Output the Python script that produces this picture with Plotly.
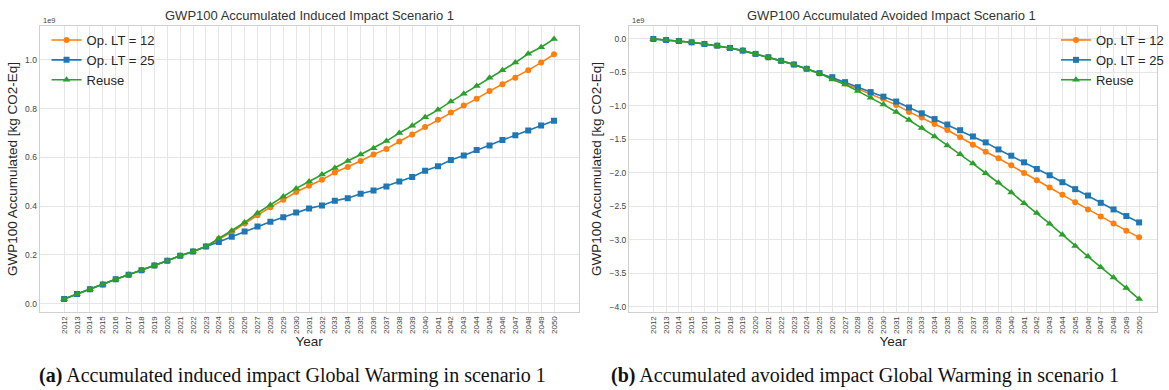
import plotly.graph_objects as go

years = list(range(2012, 2051))

# Values in units of 1e9 kg CO2-Eq
induced_op12 = [0.019, 0.040, 0.059, 0.079, 0.100, 0.119, 0.137, 0.157, 0.176, 0.197, 0.214, 0.235,
                0.266, 0.294, 0.329, 0.363, 0.396, 0.426, 0.458, 0.484, 0.508, 0.538, 0.561, 0.585,
                0.612, 0.635, 0.665, 0.694, 0.725, 0.755, 0.784, 0.813, 0.841, 0.872, 0.900, 0.927,
                0.958, 0.989, 1.023]
induced_op25 = [0.019, 0.040, 0.059, 0.079, 0.100, 0.119, 0.137, 0.157, 0.176, 0.197, 0.214, 0.235,
                0.253, 0.275, 0.296, 0.317, 0.336, 0.355, 0.374, 0.391, 0.403, 0.422, 0.433, 0.451,
                0.464, 0.481, 0.501, 0.520, 0.545, 0.564, 0.589, 0.608, 0.630, 0.649, 0.671, 0.691,
                0.710, 0.731, 0.750]
induced_reuse = [0.019, 0.040, 0.059, 0.079, 0.100, 0.119, 0.137, 0.157, 0.176, 0.197, 0.214, 0.235,
                 0.268, 0.299, 0.333, 0.372, 0.405, 0.440, 0.473, 0.501, 0.530, 0.557, 0.585, 0.612,
                 0.638, 0.667, 0.700, 0.730, 0.765, 0.795, 0.829, 0.861, 0.893, 0.927, 0.958, 0.989,
                 1.025, 1.052, 1.086]

avoided_op12 = [0.0, -0.015, -0.030, -0.050, -0.075, -0.100, -0.134, -0.174, -0.223, -0.273, -0.327,
                -0.382, -0.446, -0.511, -0.585, -0.665, -0.745, -0.818, -0.895, -0.985, -1.090,
                -1.175, -1.270, -1.360, -1.470, -1.580, -1.686, -1.782, -1.889, -2.003, -2.112,
                -2.221, -2.330, -2.439, -2.548, -2.652, -2.757, -2.865, -2.965]
avoided_op25 = [0.0, -0.015, -0.030, -0.050, -0.075, -0.100, -0.134, -0.174, -0.223, -0.273, -0.327,
                -0.382, -0.446, -0.511, -0.571, -0.645, -0.720, -0.794, -0.862, -0.935, -1.024,
                -1.111, -1.197, -1.279, -1.364, -1.457, -1.546, -1.651, -1.745, -1.844, -1.943,
                -2.037, -2.141, -2.245, -2.340, -2.449, -2.548, -2.647, -2.742]
avoided_reuse = [0.0, -0.015, -0.030, -0.050, -0.075, -0.100, -0.134, -0.174, -0.223, -0.273, -0.327,
                 -0.382, -0.446, -0.511, -0.605, -0.680, -0.779, -0.877, -0.981, -1.091, -1.210,
                 -1.331, -1.457, -1.591, -1.723, -1.862, -2.007, -2.150, -2.293, -2.454, -2.602,
                 -2.761, -2.925, -3.093, -3.252, -3.411, -3.564, -3.723, -3.887]

series_names = ["Op. LT = 12", "Op. LT = 25", "Reuse"]
colors = ["#ff7f0e", "#1f77b4", "#2ca02c"]
symbols = ["circle", "square", "triangle-up"]
msizes = [6, 6, 7]

left_ticks = [0.0, 0.2, 0.4, 0.6, 0.8, 1.0]
right_ticks = [-4.0, -3.5, -3.0, -2.5, -2.0, -1.5, -1.0, -0.5, 0.0]

titles = ["GWP100 Accumulated Induced Impact Scenario 1",
          "GWP100 Accumulated Avoided Impact Scenario 1"]
captions = ["<b>(a)</b> Accumulated induced impact Global Warming in scenario 1",
            "<b>(b)</b> Accumulated avoided impact Global Warming in scenario 1"]

FONT = "Liberation Sans, Arial, sans-serif"
W, H = 1169, 390

fig = go.Figure()

for panel, data in enumerate([[induced_op12, induced_op25, induced_reuse],
                              [avoided_op12, avoided_op25, avoided_reuse]]):
    xa = "x" if panel == 0 else "x2"
    ya = "y" if panel == 0 else "y2"
    lg = "legend" if panel == 0 else "legend2"
    for i in range(3):
        fig.add_trace(go.Scatter(
            x=years, y=data[i], name=series_names[i], mode="lines+markers",
            line=dict(color=colors[i], width=1.6),
            marker=dict(symbol=symbols[i], size=msizes[i], color=colors[i]),
            xaxis=xa, yaxis=ya, legend=lg))

def px_x(p):
    return p / W

def px_y(p):
    return (H - p) / H

grid = "#e6e6e6"
frame = "#d0d0d0"
tickfont = dict(family=FONT, size=8.5, color="#444")
axtitle = dict(family=FONT, size=13.5, color="#262626")

xcommon = dict(tickmode="array", tickvals=years, ticktext=[str(y) for y in years],
               tickangle=-90, tickfont=dict(family=FONT, size=8, color="#444"),
               showgrid=True, gridcolor=grid, gridwidth=1, zeroline=False,
               showline=True, linecolor=frame, linewidth=1, mirror=True, ticks="",
               title=dict(text="Year", font=axtitle, standoff=0))
ycommon = dict(tickfont=tickfont, showgrid=True, gridcolor=grid, gridwidth=1, zeroline=False,
               showline=True, linecolor=frame, linewidth=1, mirror=True, ticks="",
               tickformat=".1f",
               title=dict(text="GWP100 Accumulated [kg CO2-Eq]", font=axtitle, standoff=4))

legfont = dict(family=FONT, size=13, color="#262626")

fig.update_layout(
    width=W, height=H,
    margin=dict(l=0, r=0, t=0, b=0),
    paper_bgcolor="white", plot_bgcolor="white",
    font=dict(family=FONT, color="#262626"),
    xaxis=dict(xcommon, domain=[px_x(40), px_x(584)], range=[2012 - 1.9, 2050 + 1.9], anchor="y"),
    yaxis=dict(ycommon, domain=[px_y(312), px_y(26)], range=[-0.034, 1.139],
               tickvals=left_ticks, anchor="x"),
    xaxis2=dict(xcommon, domain=[px_x(635), px_x(1168)], range=[2012 - 1.9, 2012 + 39.4],
                anchor="y2"),
    yaxis2=dict(ycommon, domain=[px_y(312), px_y(26)], range=[-4.081, 0.194],
                tickvals=right_ticks, anchor="x2"),
    legend=dict(x=px_x(47), y=px_y(25), xanchor="left", yanchor="top", font=legfont,
                bgcolor="rgba(0,0,0,0)", tracegroupgap=0, itemwidth=30),
    legend2=dict(x=px_x(1066), y=px_y(25), xanchor="left", yanchor="top", font=legfont,
                 bgcolor="rgba(0,0,0,0)", tracegroupgap=0, itemwidth=30),
    showlegend=True,
)

annotations = []
for i, (cx, ex) in enumerate([(312, 41), (900, 636)]):
    annotations.append(dict(text=titles[i], x=px_x(cx), y=px_y(16), xref="paper", yref="paper",
                            showarrow=False, xanchor="center", yanchor="middle",
                            font=dict(family=FONT, size=13, color="#333")))
    annotations.append(dict(text="1e9", x=px_x(ex), y=px_y(20), xref="paper", yref="paper",
                            showarrow=False, xanchor="left", yanchor="middle",
                            font=dict(family=FONT, size=7.5, color="#444")))
for i, cx in enumerate([295, 873]):
    annotations.append(dict(text=captions[i], x=px_x(cx), y=px_y(375), xref="paper", yref="paper",
                            showarrow=False, xanchor="center", yanchor="middle",
                            font=dict(family="Liberation Serif, DejaVu Serif, serif", size=20,
                                      color="#111")))
fig.update_layout(annotations=annotations)

fig.write_html(
    "out.html",
    config={"displayModeBar": False},
    post_script=("document.documentElement.style.margin='0';"
                 "document.body.style.margin='0';"
                 "document.body.style.overflow='hidden';"
                 "document.documentElement.style.overflow='hidden';"),
)
